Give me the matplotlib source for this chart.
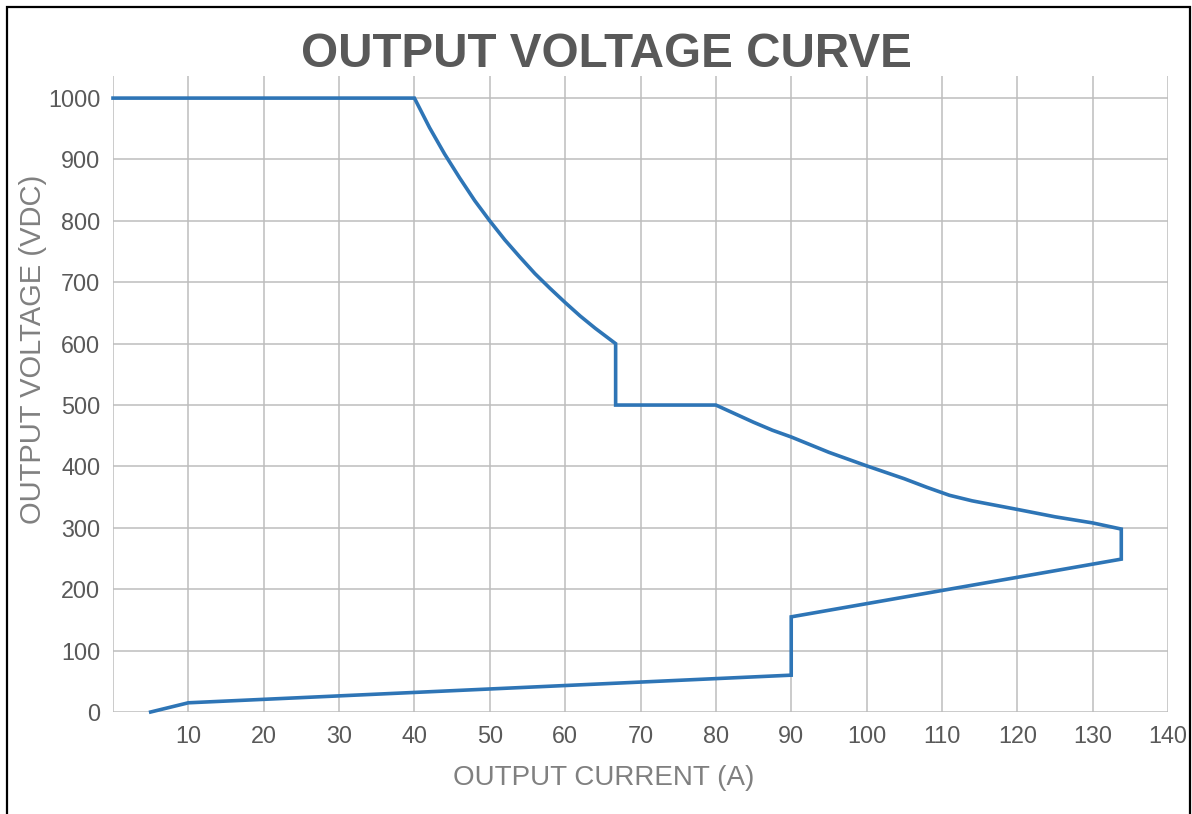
import matplotlib
matplotlib.use("Agg")
import matplotlib.pyplot as plt
from matplotlib.patches import Rectangle

# Data
current = [0, 40, 42, 44, 46, 48, 50, 52, 54, 56, 58, 60, 62, 64, 66.7,
           66.7, 80, 82.5, 85, 87.5, 90, 95, 100, 105, 108, 111, 114, 117, 120, 125, 130, 133.8,
           133.8, 90, 90, 10, 5]
voltage = [1000, 1000, 952, 909, 870, 833, 800, 769, 741, 714, 690, 667, 645, 625, 600,
           500, 500, 486, 472, 459, 448, 423, 401, 380, 366, 353, 344, 337, 330, 318, 308, 298,
           249, 155, 60, 15, 0]

x_ticks = [10, 20, 30, 40, 50, 60, 70, 80, 90, 100, 110, 120, 130, 140]
y_ticks = [0, 100, 200, 300, 400, 500, 600, 700, 800, 900, 1000]

title = "OUTPUT VOLTAGE CURVE"
xlabel = "OUTPUT CURRENT (A)"
ylabel = "OUTPUT VOLTAGE (VDC)"

plt.rcParams['font.family'] = ['Liberation Sans', 'DejaVu Sans']

fig = plt.figure(figsize=(11.92, 8.14), dpi=100)
ax = fig.add_axes([113/1192, 1 - 712/814, (1168 - 113)/1192, (712 - 76)/814])

grid_color = '#bdbdbd'
ax.set_xlim(0, 140)
ax.set_ylim(0, 1036)
ax.set_xticks(x_ticks)
ax.set_yticks(y_ticks)
ax.tick_params(axis='both', length=0, labelsize=16.8, labelcolor='#595959')
ax.tick_params(axis='x', pad=9.2)
ax.tick_params(axis='y', pad=9.2)

# grid
for yt in y_ticks:
    ax.axhline(yt, color=grid_color, lw=1.1, zorder=1)
for xt in [0] + x_ticks:
    ax.axvline(xt, color=grid_color, lw=1.1, zorder=1)

for s in ax.spines.values():
    s.set_visible(False)

ax.plot(current, voltage, color='#2e75b6', lw=2.6, zorder=3,
        solid_joinstyle='miter', clip_on=False)

fig.text(606/1192, 1 - 67/814, title, fontsize=34.3, fontweight='bold',
         color='#595959', ha='center', va='baseline')
fig.text(603.5/1192, 1 - 785/814, xlabel, fontsize=20, color='#808080',
         ha='center', va='baseline')
fig.text(33/1192, 1 - 349/814, ylabel, fontsize=21, color='#808080',
         ha='center', va='center', rotation=90)

# outer frame
fig.patches.append(Rectangle((7/1192, -0.05), (1190 - 7)/1192, 1 - 7/814 + 0.05,
                             transform=fig.transFigure, fill=False,
                             edgecolor='black', lw=1.6, zorder=10))

fig.savefig("out.png", dpi=100)
